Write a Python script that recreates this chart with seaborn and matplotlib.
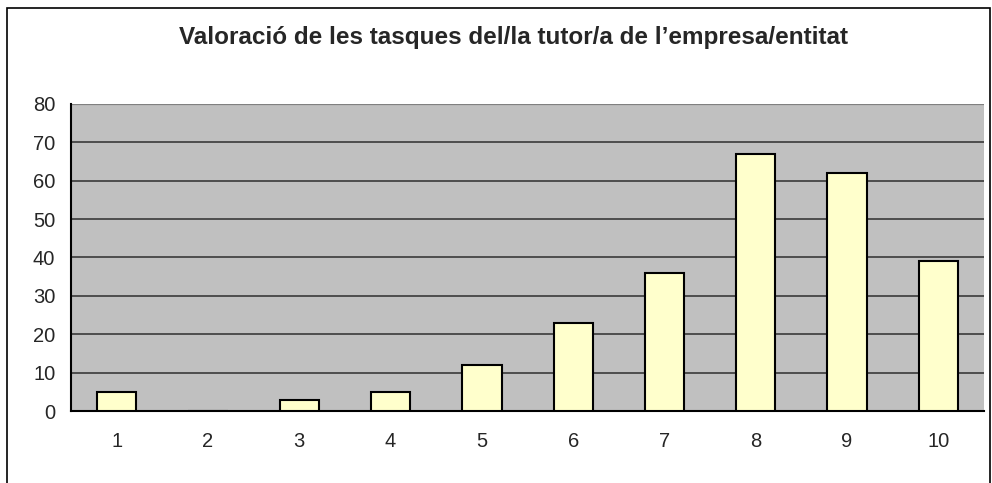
import seaborn as sns
import matplotlib.pyplot as plt
import matplotlib.patches as patches
import numpy as np

scores = ["1", "2", "3", "4", "5", "6", "7", "8", "9", "10"]
counts = [5, 0, 3, 5, 12, 23, 36, 67, 62, 39]
title = "Valoració de les tasques del/la tutor/a de l\u2019empresa/entitat"

sns.set_style("white")
plt.rcParams['font.family'] = ['Liberation Sans', 'DejaVu Sans']

fig = plt.figure(figsize=(9.92, 4.83), dpi=100)
ax = fig.add_axes([0.0716, 0.149, 0.9204, 0.636])
ax.set_facecolor("#C0C0C0")

sns.barplot(x=scores, y=counts, color="#FFFFCC", edgecolor="black",
            linewidth=1.5, width=0.43, saturation=1, ax=ax, zorder=3)

ax.set_ylim(0, 80)
ax.set_xlim(-0.5, len(scores) - 0.5)
ax.set_yticks(range(0, 81, 10))
ax.yaxis.grid(True, color="#3a3a3a", linewidth=1.2)
ax.set_axisbelow(True)

ax.set_xticks(np.arange(len(scores)))
ax.set_xticklabels(scores)
ax.set_xticks(np.arange(-0.5, len(scores)), minor=True)
ax.tick_params(axis="x", which="major", length=0, pad=15, labelsize=14.5)
ax.tick_params(axis="x", which="minor", length=4.3, width=1, color="#333333", direction="out")
ax.tick_params(axis="y", length=4.3, width=1, color="#333333", direction="out", labelsize=14.5, pad=7)

for side in ["top", "right"]:
    ax.spines[side].set_visible(False)
ax.spines["left"].set_color("black")
ax.spines["left"].set_linewidth(1.5)
ax.spines["bottom"].set_color("black")
ax.spines["bottom"].set_linewidth(1.5)
ax.set_xlabel("")
ax.set_ylabel("")

# the top edge of the plot area is a lighter gray line
fig.canvas.draw()
ax.get_ygridlines()[-1].set_color("#808080")
ax.get_ygridlines()[-1].set_linewidth(1.6)

fig.text(0.518, 0.923, title, ha="center", va="center", fontsize=17.5, fontweight="bold")

border = patches.Rectangle((7 / 992, -0.1), 983 / 992, 1.1 - 8 / 483, transform=fig.transFigure,
                           fill=False, edgecolor="black", linewidth=1.2)
fig.patches.append(border)

fig.savefig("out.png", dpi=100)
